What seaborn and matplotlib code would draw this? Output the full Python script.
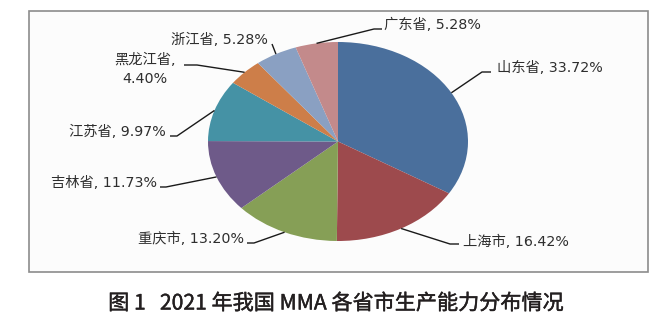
import numpy as np
import matplotlib
matplotlib.use("Agg")
import matplotlib.pyplot as plt
import matplotlib.patheffects as pe
import seaborn as sns
from matplotlib.patches import Rectangle

# MMA production capacity share by province, 2021 (%)
provinces = ["山东省", "上海市", "重庆市", "吉林省", "江苏省", "黑龙江省", "浙江省", "广东省"]
shares = [33.72, 16.42, 13.20, 11.73, 9.97, 4.40, 5.28, 5.28]
colors = ["#4a6f9c", "#9d4a4d", "#869f56", "#6e5a89", "#4592a5", "#cd7e49", "#8aa0c2", "#c38a8b"]
caption = "图 1   2021 年我国 MMA 各省市生产能力分布情况"

sns.set_theme(style="white")
plt.rcParams["font.family"] = ["DejaVu Sans", "Noto Sans CJK SC"]

W, H = 665, 326
fig = plt.figure(figsize=(W / 100, H / 100), dpi=100)
fig.patch.set_facecolor("white")

# framed chart area (pixel coordinates, y downwards)
bg = fig.add_axes([0, 0, 1, 1])
bg.set_xlim(0, W)
bg.set_ylim(H, 0)
bg.axis("off")
bg.add_patch(Rectangle((29, 11), 619, 261, facecolor="#fcfcfc",
                       edgecolor="#8c8c8c", lw=1.2))

# pie, slightly flattened
cx, cy, rx, ry = 338, 141.5, 130, 99.5
pie_ax = fig.add_axes([(cx - rx) / W, 1 - (cy + ry) / H, 2 * rx / W, 2 * ry / H])
wedges, _ = pie_ax.pie(shares, colors=sns.color_palette(colors), startangle=90,
                       counterclock=False, radius=1,
                       wedgeprops=dict(linewidth=0))
pie_ax.set_aspect("auto")
pie_ax.set_xlim(-1, 1)
pie_ax.set_ylim(-1, 1)
pie_ax.axis("off")

# labels and leader lines on top
lab = fig.add_axes([0, 0, 1, 1])
lab.set_xlim(0, W)
lab.set_ylim(H, 0)
lab.axis("off")

# (text x, text y, alignment, elbow, tail)
layout = [
    (497, 68, "left", (482, 72), (491, 72)),
    (463, 242, "left", (450, 244), (459, 244)),
    (244, 239, "right", (254, 243), (247, 243)),
    (157, 183, "right", (166, 187), (160, 187)),
    (166, 132, "right", (177, 136), (170, 136)),
    (145, 69, "center", (197, 65), (184, 65)),
    (268, 40, "right", (272, 44), (272, 44)),
    (384, 25, "left", (374, 29), (382, 29)),
]

for name, val, w, (tx, ty, ha, elbow, tail) in zip(provinces, shares, wedges, layout):
    theta = np.deg2rad((w.theta1 + w.theta2) / 2)
    ax_pt = (cx + rx * np.cos(theta), cy - ry * np.sin(theta))
    xs = [ax_pt[0], elbow[0], tail[0]]
    ys = [ax_pt[1], elbow[1], tail[1]]
    lab.plot(xs, ys, color="#1a1a1a", lw=1.0, solid_capstyle="butt")
    if ha == "center":
        txt = f"{name},\n{val:.2f}%"
    else:
        txt = f"{name}, {val:.2f}%"
    lab.text(tx, ty, txt, ha=ha, va="center", fontsize=10.3, color="#2e2e2e",
             multialignment="center", linespacing=1.45)

lab.text(336, 303.5, caption, ha="center", va="center", fontsize=15.2,
         family=["Noto Sans CJK SC"], color="#231f20",
         path_effects=[pe.withStroke(linewidth=0.3, foreground="#231f20")])

fig.savefig("out.png", dpi=100, facecolor="white")
